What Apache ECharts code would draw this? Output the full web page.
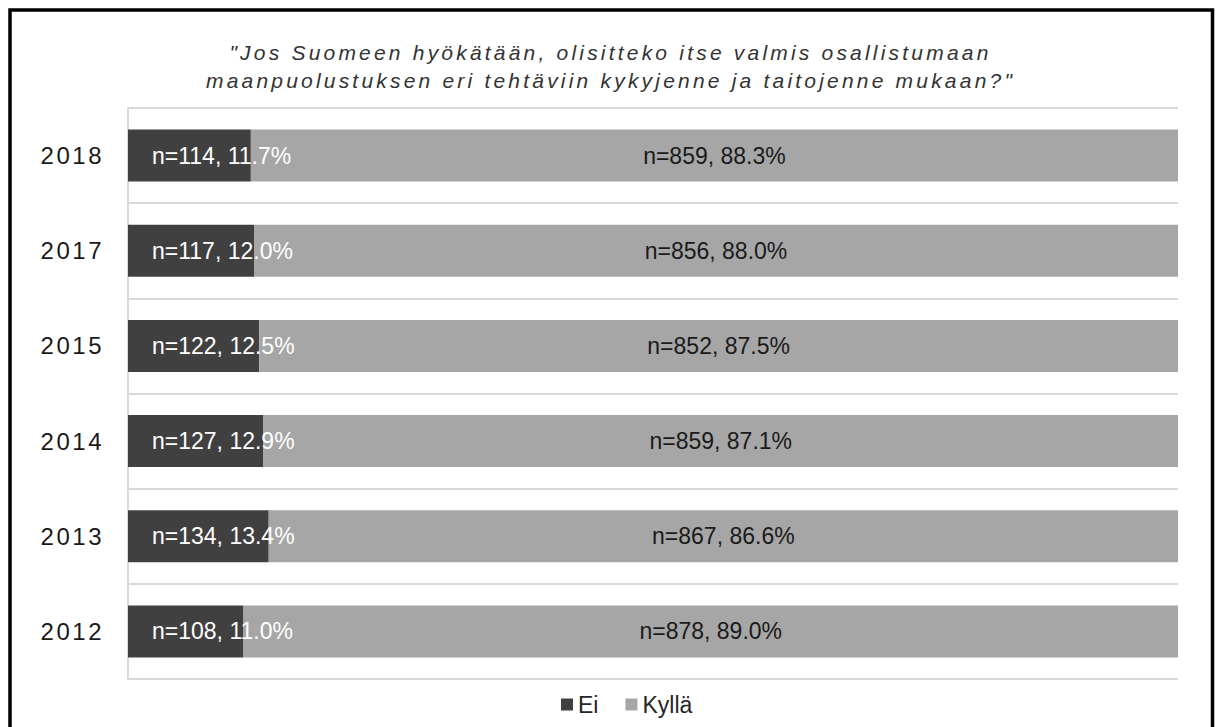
<!DOCTYPE html>
<html>
<head>
<meta charset="utf-8">
<script src="https://cdn.jsdelivr.net/npm/echarts@6/dist/echarts.min.js"></script>
<style>
  html, body { margin: 0; padding: 0; background: #fff; }
  #chart { width: 1221px; height: 727px; }
</style>
</head>
<body>
<div id="chart"></div>
<script>
// ---- data ----
const years = ['2018', '2017', '2015', '2014', '2013', '2012'];
const eiPct = [11.7, 12.0, 12.5, 12.9, 13.4, 11.0];
const kyllaPct = [88.3, 88.0, 87.5, 87.1, 86.6, 89.0];
const eiN = [114, 117, 122, 127, 134, 108];
const kyllaN = [859, 856, 852, 859, 867, 878];
const seriesNames = ['Ei', 'Kyllä'];
const titleLines = [
  '"Jos Suomeen hyökätään, olisitteko itse valmis osallistumaan',
  'maanpuolustuksen eri tehtäviin kykyjenne ja taitojenne mukaan?"'
];

const FONT = '"Liberation Sans", Arial, sans-serif';

const chart = echarts.init(document.getElementById('chart'), null, { renderer: 'svg' });

function fmt(nArr, pArr) {
  return p => 'n=' + nArr[p.dataIndex] + ', ' + pArr[p.dataIndex].toFixed(1) + '%';
}

const option = {
  backgroundColor: '#ffffff',
  animation: false,
  title: {
    text: titleLines.join('\n'),
    left: 'center',
    top: 33,
    textStyle: {
      fontFamily: FONT,
      fontStyle: 'italic',
      fontWeight: 'normal',
      fontSize: 21,
      lineHeight: 28,
      color: '#333333'
    }
  },
  legend: {
    data: seriesNames,
    left: 556,
    top: 688,
    itemWidth: 12,
    itemHeight: 12,
    itemGap: 27,
    icon: 'rect',
    textStyle: { fontFamily: FONT, fontSize: 23, color: '#262626' }
  },
  grid: { left: 128, right: 43, top: 108, bottom: 48, containLabel: false },
  xAxis: {
    type: 'value',
    min: 0,
    max: 100,
    show: false
  },
  yAxis: {
    type: 'category',
    data: years,
    inverse: true,
    axisTick: { show: false },
    axisLine: { show: true, lineStyle: { color: '#d9d9d9', width: 2 } },
    splitLine: { show: true, lineStyle: { color: '#d9d9d9', width: 2 } },
    axisLabel: {
      fontFamily: FONT,
      fontSize: 24,
      color: '#1a1a1a',
      margin: 24
    }
  },
  series: [
    {
      name: seriesNames[0],
      type: 'bar',
      stack: 'total',
      barWidth: 52,
      data: eiPct,
      itemStyle: { color: '#404040' },
      label: {
        show: true,
        position: 'insideLeft',
        distance: 24,
        formatter: fmt(eiN, eiPct),
        fontFamily: FONT,
        fontSize: 23,
        color: '#ffffff'
      }
    },
    {
      name: seriesNames[1],
      type: 'bar',
      stack: 'total',
      barWidth: 52,
      data: kyllaPct,
      itemStyle: { color: '#a6a6a6' },
      label: {
        show: true,
        position: 'inside',
        formatter: fmt(kyllaN, kyllaPct),
        fontFamily: FONT,
        fontSize: 23,
        color: '#1a1a1a'
      }
    }
  ],
  graphic: [
    {
      type: 'rect',
      silent: true,
      z: 100,
      shape: { x: 10, y: 10, width: 1202.5, height: 1000 },
      style: { fill: 'none', stroke: '#000000', lineWidth: 3.5 }
    }
  ]
};

function applySpacing() {
  const texts = document.querySelectorAll('#chart svg text');
  texts.forEach(t => {
    const s = t.textContent;
    if (years.indexOf(s) >= 0) {
      t.setAttribute('letter-spacing', '2.5px');
    } else if (titleLines.indexOf(s) >= 0) {
      t.setAttribute('letter-spacing', '3.2px');
    }
  });
}

chart.on('finished', applySpacing);
chart.setOption(option);
applySpacing();
setTimeout(applySpacing, 50);
</script>
</body>
</html>
